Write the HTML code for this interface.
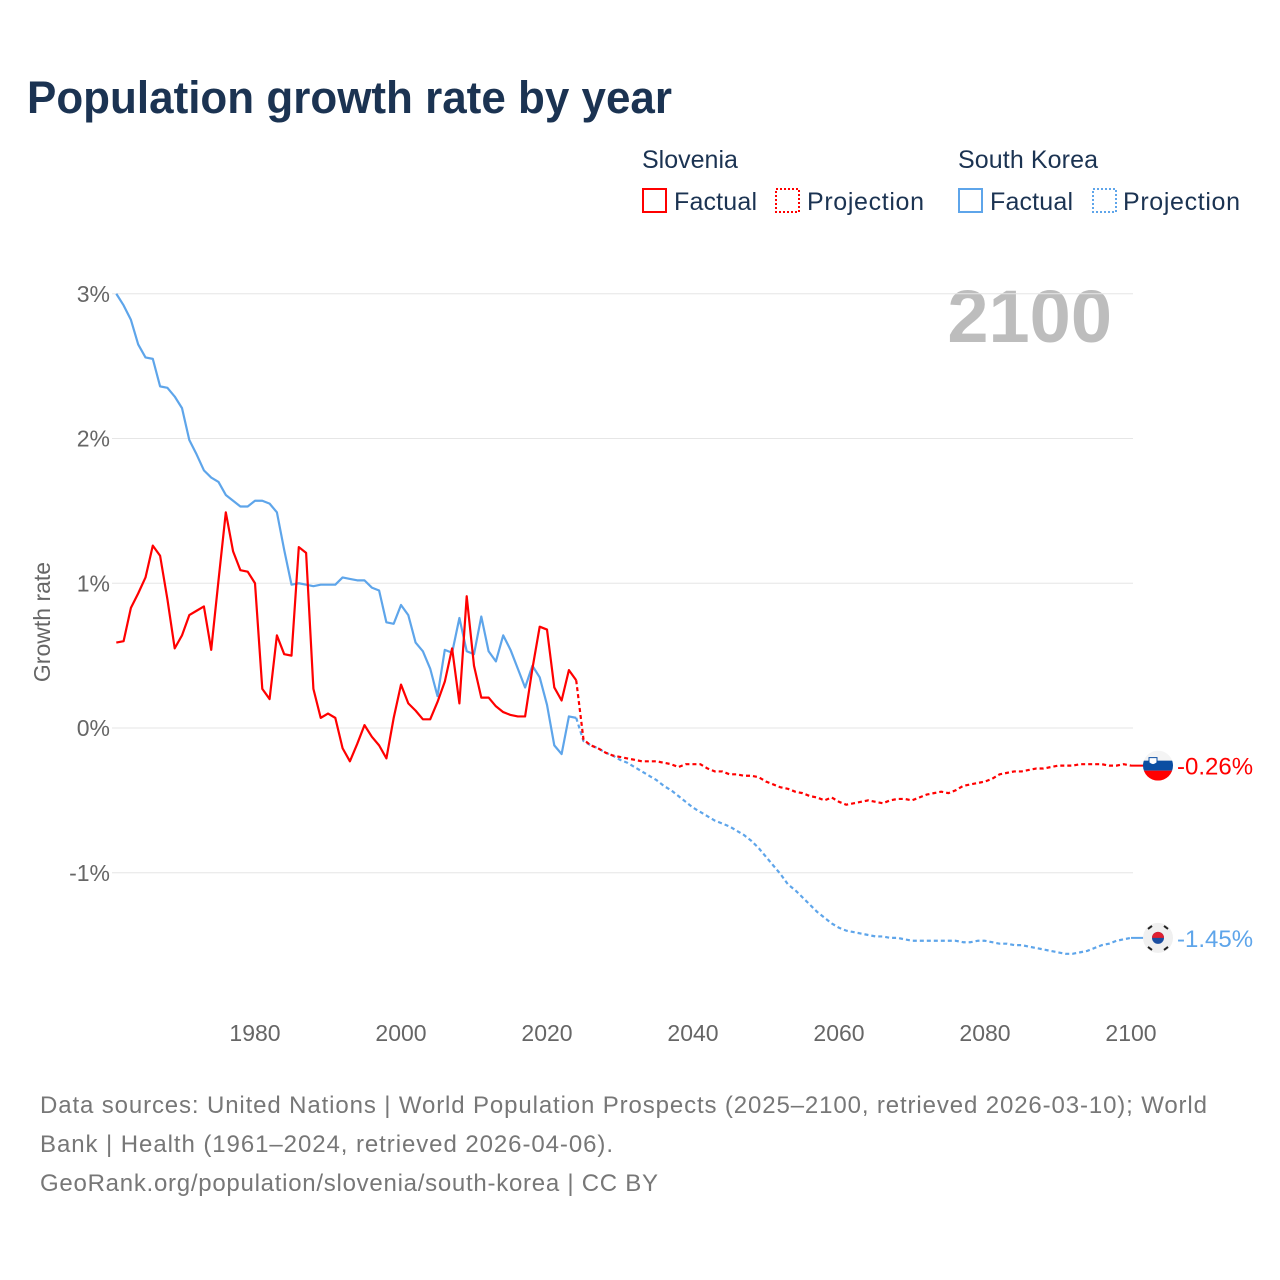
<!DOCTYPE html>
<html><head><meta charset="utf-8">
<style>
body{margin:0;background:#fff;font-family:"Liberation Sans",sans-serif;}
#wrap{position:relative;width:1280px;height:1280px;overflow:hidden;}
</style></head>
<body>
<div id="wrap">
<svg id="chart" width="1280" height="1280" style="position:absolute;left:0;top:0">
<text x="27" y="113" font-size="45" font-weight="bold" fill="#1b3352" textLength="645" lengthAdjust="spacingAndGlyphs">Population growth rate by year</text>
<g font-size="25" fill="#1b3352">
<text x="642" y="168">Slovenia</text>
<rect x="643" y="189" width="23" height="23" fill="none" stroke="#ff0000" stroke-width="2"/>
<text x="674" y="210" textLength="83">Factual</text>
<rect x="776" y="189" width="23" height="23" fill="none" stroke="#ff0000" stroke-width="2" stroke-dasharray="2,2"/>
<text x="807" y="210" textLength="117">Projection</text>
<text x="958" y="168" textLength="140">South Korea</text>
<rect x="959" y="189" width="23" height="23" fill="none" stroke="#5ea5ea" stroke-width="2"/>
<text x="990" y="210" textLength="83">Factual</text>
<rect x="1093" y="189" width="23" height="23" fill="none" stroke="#5ea5ea" stroke-width="2" stroke-dasharray="2,2"/>
<text x="1123" y="210" textLength="117">Projection</text>
</g>
<text x="1112" y="342" font-size="74" font-weight="bold" fill="#bdbdbd" text-anchor="end">2100</text>
<text transform="translate(50,622) rotate(-90)" font-size="23" fill="#666" text-anchor="middle">Growth rate</text>
<g id="grid"></g>
<g id="series"></g>
<g font-size="24" fill="#777">
<text x="40" y="1113" textLength="1167">Data sources: United Nations | World Population Prospects (2025–2100, retrieved 2026-03-10); World</text>
<text x="40" y="1152" textLength="573">Bank | Health (1961–2024, retrieved 2026-04-06).</text>
<text x="40" y="1191" textLength="618">GeoRank.org/population/slovenia/south-korea | CC BY</text>
</g>
</svg>
</div>
<script>
const yTicks=[3,2,1,0,-1];
const yTickLabels=["3%","2%","1%","0%","-1%"];
const xTicks=[1980,2000,2020,2040,2060,2080,2100];
const factualStart=1961;
const projStart=2025;
const sloFactual=[0.59,0.60,0.83,0.93,1.04,1.26,1.19,0.89,0.55,0.64,0.78,0.81,0.84,0.54,1.02,1.49,1.22,1.09,1.08,1.00,0.27,0.20,0.64,0.51,0.50,1.25,1.21,0.27,0.07,0.10,0.07,-0.14,-0.23,-0.11,0.02,-0.06,-0.12,-0.21,0.07,0.30,0.17,0.12,0.06,0.06,0.18,0.32,0.55,0.17,0.91,0.43,0.21,0.21,0.15,0.11,0.09,0.08,0.08,0.41,0.70,0.68,0.28,0.19,0.40,0.33];
const korFactual=[3.00,2.92,2.82,2.65,2.56,2.55,2.36,2.35,2.29,2.21,1.99,1.89,1.78,1.73,1.70,1.61,1.57,1.53,1.53,1.57,1.57,1.55,1.49,1.23,0.99,1.00,0.99,0.98,0.99,0.99,0.99,1.04,1.03,1.02,1.02,0.97,0.95,0.73,0.72,0.85,0.78,0.59,0.53,0.41,0.22,0.54,0.52,0.76,0.53,0.51,0.77,0.53,0.46,0.64,0.54,0.41,0.28,0.43,0.35,0.16,-0.12,-0.18,0.08,0.07];
const sloProj=[-0.08,-0.12,-0.14,-0.17,-0.19,-0.20,-0.21,-0.22,-0.23,-0.23,-0.23,-0.24,-0.25,-0.27,-0.25,-0.25,-0.25,-0.28,-0.30,-0.30,-0.32,-0.32,-0.33,-0.33,-0.34,-0.37,-0.39,-0.41,-0.42,-0.44,-0.45,-0.47,-0.48,-0.50,-0.48,-0.51,-0.53,-0.52,-0.51,-0.50,-0.51,-0.52,-0.50,-0.49,-0.49,-0.50,-0.48,-0.46,-0.45,-0.44,-0.45,-0.43,-0.40,-0.39,-0.38,-0.37,-0.35,-0.32,-0.31,-0.30,-0.30,-0.29,-0.28,-0.28,-0.27,-0.26,-0.26,-0.26,-0.25,-0.25,-0.25,-0.25,-0.26,-0.26,-0.25,-0.26];
const korProj=[-0.09,-0.12,-0.14,-0.17,-0.19,-0.22,-0.24,-0.27,-0.30,-0.33,-0.36,-0.40,-0.43,-0.47,-0.51,-0.55,-0.58,-0.61,-0.64,-0.66,-0.68,-0.71,-0.74,-0.78,-0.83,-0.89,-0.95,-1.01,-1.08,-1.12,-1.17,-1.22,-1.27,-1.31,-1.35,-1.38,-1.40,-1.41,-1.42,-1.43,-1.44,-1.44,-1.45,-1.45,-1.46,-1.47,-1.47,-1.47,-1.47,-1.47,-1.47,-1.47,-1.48,-1.48,-1.47,-1.47,-1.48,-1.49,-1.49,-1.50,-1.50,-1.51,-1.52,-1.53,-1.54,-1.55,-1.56,-1.56,-1.55,-1.54,-1.52,-1.50,-1.49,-1.47,-1.46,-1.45];
const NS="http://www.w3.org/2000/svg";
function xS(yr){return 255+(yr-1980)*7.3;}
function yS(v){return 728-v*144.75;}
const grid=document.getElementById('grid');
yTicks.forEach((t,i)=>{
  const l=document.createElementNS(NS,'line');
  l.setAttribute('x1',112);l.setAttribute('x2',1133);l.setAttribute('y1',yS(t));l.setAttribute('y2',yS(t));
  l.setAttribute('stroke','#e6e6e6');l.setAttribute('stroke-width','1');
  
  
  grid.appendChild(l);
  const tx=document.createElementNS(NS,'text');
  tx.setAttribute('x',110);tx.setAttribute('y',yS(t)+8);tx.setAttribute('text-anchor','end');
  tx.setAttribute('font-size','23');tx.setAttribute('fill','#666');tx.textContent=yTickLabels[i];
  
  
  grid.appendChild(tx);
});
xTicks.forEach(t=>{
  const tx=document.createElementNS(NS,'text');
  tx.setAttribute('x',xS(t));tx.setAttribute('y',1041);tx.setAttribute('text-anchor','middle');
  tx.setAttribute('font-size','23');tx.setAttribute('fill','#666');tx.textContent=t;
  
  
  grid.appendChild(tx);
});
const g=document.getElementById('series');
function line(vals,start,color,dash,name,prefix){
  let pts=[];
  if(prefix){pts.push(xS(prefix[0])+','+yS(prefix[1]));}
  vals.forEach((v,i)=>pts.push(xS(start+i)+','+yS(v)));
  const p=document.createElementNS(NS,'polyline');
  p.setAttribute('points',pts.join(' '));
  p.setAttribute('fill','none');p.setAttribute('stroke',color);p.setAttribute('stroke-width','2.2');
  p.setAttribute('stroke-linejoin','round');
  if(dash)p.setAttribute('stroke-dasharray','4,3');
  
  
  g.appendChild(p);
}
line(korFactual,factualStart,'#5ea5ea',false,'korea-factual-line');
line(korProj,projStart,'#5ea5ea',true,'korea-projection-line',[2024,korFactual[korFactual.length-1]]);
line(sloFactual,factualStart,'#ff0000',false,'slovenia-factual-line');
line(sloProj,projStart,'#ff0000',true,'slovenia-projection-line',[2024,sloFactual[sloFactual.length-1]]);
function endMark(val,color,label,flag,name){
  const cy=yS(val);
  const grp=document.createElementNS(NS,'g');
  
  
  const l=document.createElementNS(NS,'line');
  l.setAttribute('x1',xS(2100));l.setAttribute('x2',1145);l.setAttribute('y1',cy);l.setAttribute('y2',cy);
  l.setAttribute('stroke',color);l.setAttribute('stroke-width','2');grp.appendChild(l);
  grp.insertAdjacentHTML('beforeend',flag(1158,cy));
  const t=document.createElementNS(NS,'text');
  t.setAttribute('x',1177);t.setAttribute('y',cy+9);t.setAttribute('font-size','24');t.setAttribute('fill',color);
  t.textContent=label;grp.appendChild(t);
  g.appendChild(grp);
}
function sloFlag(cx,cy){return `<clipPath id="cs"><circle cx="${cx}" cy="${cy}" r="15"/></clipPath><g clip-path="url(#cs)"><rect x="${cx-15}" y="${cy-15}" width="30" height="10" fill="#f4f4f4"/><rect x="${cx-15}" y="${cy-5}" width="30" height="10" fill="#0b4ea2"/><rect x="${cx-15}" y="${cy+5}" width="30" height="10" fill="#ff0000"/><path d="M${cx-9} ${cy-8} h8 v5 q-4 4 -8 0z" fill="#fff" stroke="#0b4ea2" stroke-width="1"/></g>`;}
function korFlag(cx,cy){return `<circle cx="${cx}" cy="${cy}" r="15" fill="#f0f0f0"/><circle cx="${cx}" cy="${cy}" r="6" fill="#1b4ea0"/><path d="M${cx-6} ${cy} a6 6 0 0 1 12 0z" fill="#e02030"/><g stroke="#222" stroke-width="2"><line x1="${cx-10}" y1="${cy-9}" x2="${cx-6}" y2="${cy-12}"/><line x1="${cx+6}" y1="${cy-12}" x2="${cx+10}" y2="${cy-9}"/><line x1="${cx-10}" y1="${cy+9}" x2="${cx-6}" y2="${cy+12}"/><line x1="${cx+6}" y1="${cy+12}" x2="${cx+10}" y2="${cy+9}"/></g>`;}
endMark(sloProj[sloProj.length-1],'#ff0000','-0.26%',sloFlag,'slovenia-end-label');
endMark(korProj[korProj.length-1],'#5ea5ea','-1.45%',korFlag,'korea-end-label');
</script>
</body></html>
